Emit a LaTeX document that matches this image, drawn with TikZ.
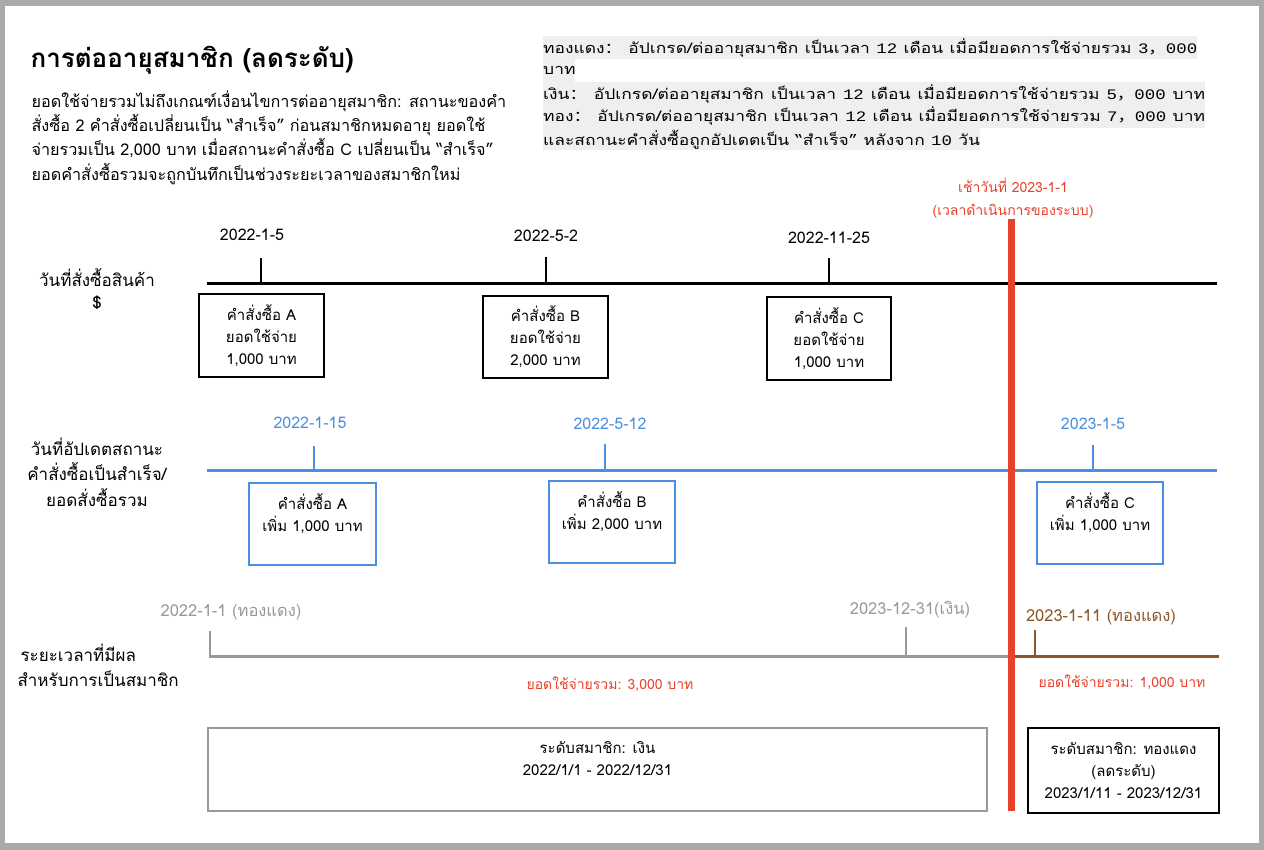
\documentclass[tikz,border=0pt]{standalone}
\usepackage{fontspec}
\setmainfont{Loma}[Script=Thai]
\newfontfamily\cjk{Noto Sans CJK SC}
\newfontfamily\mono{Liberation Mono}
\usetikzlibrary{positioning}
\newcommand{\fsz}[2]{\fontsize{#1}{#2}\selectfont}
% wide, evenly spread line for the rules box
\newcommand{\ruleline}[2]{\scalebox{1.2}[1]{\makebox[#1][s]{#2}}}

\begin{document}
\begin{tikzpicture}[x=1pt,y=-1pt,
    every node/.style={font=\fsz{15}{22}},
    obox/.style={draw=black, line width=2pt, align=center, inner sep=0pt},
    ubox/.style={draw=bl, line width=2pt, align=center, inner sep=0pt},
    rule/.style={fill=hl, anchor=north west, inner sep=0pt, minimum height=22.5pt, font=\fsz{14.5}{22}},
    axis/.style={line width=3pt},
    tick/.style={line width=2pt}]
  \definecolor{frame}{HTML}{AAAAAA}\definecolor{rd}{HTML}{E8412C}\definecolor{bl}{HTML}{4A90E2}
  \definecolor{gr}{HTML}{999999}\definecolor{br}{HTML}{8B572A}\definecolor{hl}{HTML}{EFEFEF}
  \useasboundingbox (0,0) rectangle (1264,850);
  \fill[frame] (0,0) rectangle (1264,850);
  \fill[white] (5,6) rectangle (1259,843);

  % heading and notes
  \node[anchor=west, font=\fsz{26}{30}\bfseries] (title) at (27,60) {การต่ออายุสมาชิก (ลดระดับ)};
  \node[anchor=north west, align=left, font=\fsz{16.2}{24.3}] (desc) at (28,87)
    {ยอดใช้จ่ายรวมไม่ถึงเกณฑ์เงื่อนไขการต่ออายุสมาชิก: สถานะของคำ\\
     สั่งซื้อ 2 คำสั่งซื้อเปลี่ยนเป็น “สำเร็จ” ก่อนสมาชิกหมดอายุ ยอดใช้\\
     จ่ายรวมเป็น 2,000 บาท เมื่อสถานะคำสั่งซื้อ C เปลี่ยนเป็น “สำเร็จ”\\
     ยอดคำสั่งซื้อรวมจะถูกบันทึกเป็นช่วงระยะเวลาของสมาชิกใหม่};
  \node[rule] (rule1) at (543,36) {\ruleline{545pt}{ทองแดง{\cjk ：} อัปเกรด/ต่ออายุสมาชิก เป็นเวลา {\mono 12} เดือน เมื่อมียอดการใช้จ่ายรวม {\mono 3}{\cjk ，}{\mono 000}}\hspace{8pt}};
  \node[rule] (rule2) at (rule1.south west) {\scalebox{1.2}[1]{บาท}};
  \node[rule] (rule3) at (543,82) {\ruleline{551.5pt}{เงิน{\cjk ：} อัปเกรด/ต่ออายุสมาชิก เป็นเวลา {\mono 12} เดือน เมื่อมียอดการใช้จ่ายรวม {\mono 5}{\cjk ，}{\mono 000} บาท}};
  \node[rule] (rule4) at (rule3.south west) {\ruleline{551.5pt}{ทอง{\cjk ：} อัปเกรด/ต่ออายุสมาชิก เป็นเวลา {\mono 12} เดือน เมื่อมียอดการใช้จ่ายรวม {\mono 7}{\cjk ，}{\mono 000} บาท}};
  \node[rule] (rule5) at (rule4.south west) {\ruleline{364pt}{และสถานะคำสั่งซื้อถูกอัปเดตเป็น “สำเร็จ” หลังจาก {\mono 10} วัน}};

  % order dates
  \node[align=center, font=\fsz{17}{22}] (lblOrder) at (97,289) {วันที่สั่งซื้อสินค้า\\\$};
  \coordinate (o0) at (207,284); \coordinate (o1) at (1217,284);
  \draw[axis] (o0) -- (o1);
  \node[font=\fsz{16}{20}] (dA) at (252,235) {2022-1-5};
  \node[font=\fsz{16}{20}] (dB) at (546,236) {2022-5-2};
  \node[font=\fsz{16}{20}] (dC) at (829,238) {2022-11-25};
  \coordinate (kA) at (261,258); \coordinate (kB) at (546,257); \coordinate (kC) at (829,258);
  \foreach \k in {kA,kB,kC} \draw[tick] (\k) -- (\k |- o0);
  \node[obox, minimum width=125pt, minimum height=83pt] (oA) at (261.5,335.5) {คำสั่งซื้อ A\\ยอดใช้จ่าย\\1,000 บาท};
  \node[obox, minimum width=125pt, minimum height=82pt] (oB) at (545.5,337) {คำสั่งซื้อ B\\ยอดใช้จ่าย\\2,000 บาท};
  \node[obox, minimum width=124pt, minimum height=83pt] (oC) at (829,338.5) {คำสั่งซื้อ C\\ยอดใช้จ่าย\\1,000 บาท};

  % status updates
  \node[align=center, font=\fsz{17}{25.5}] (lblUpdate) at (97,472) {วันที่อัปเดตสถานะ\\คำสั่งซื้อเป็นสำเร็จ/\\ยอดสั่งซื้อรวม};
  \coordinate (u0) at (207,470); \coordinate (u1) at (1217,470);
  \draw[axis, bl] (u0) -- (u1);
  \node[bl, font=\fsz{16}{20}] (dU1) at (310,423) {2022-1-15};
  \node[bl, font=\fsz{16}{20}] (dU2) at (610,424) {2022-5-12};
  \node[bl, font=\fsz{16}{20}] (dU3) at (1093,424) {2023-1-5};
  \coordinate (kU1) at (314,446); \coordinate (kU2) at (605,444); \coordinate (kU3) at (1093,445);
  \foreach \k in {kU1,kU2,kU3} \draw[tick, bl] (\k) -- (\k |- u0);
  \node[ubox, minimum width=127pt, minimum height=82pt] (bA) at (312.5,524) {คำสั่งซื้อ A\\เพิ่ม 1,000 บาท\\ };
  \node[ubox, minimum width=126pt, minimum height=82pt] (bB) at (612,522) {คำสั่งซื้อ B\\เพิ่ม 2,000 บาท\\ };
  \node[ubox, minimum width=126pt, minimum height=82pt] (bC) at (1100,523) {คำสั่งซื้อ C\\เพิ่ม 1,000 บาท\\ };

  % membership periods
  \node[anchor=west, align=left, font=\fsz{17}{25}] (lblPeriod) at (14,665.5) {\hspace{3pt}ระยะเวลาที่มีผล\\สำหรับการเป็นสมาชิก};
  \coordinate (p0) at (209,656); \coordinate (pm) at (1010,656); \coordinate (p1) at (1219,656);
  \draw[axis, gr] (p0) -- (pm);
  \draw[axis, br] (pm) -- (p1);
  \node[gr, font=\fsz{16.5}{20}] (dP1) at (231,612) {2022-1-1 (ทองแดง)};
  \node[gr, font=\fsz{16.5}{20}] (dP2) at (910,610) {2023-12-31(เงิน)};
  \node[br, font=\fsz{16.5}{20}] (dP3) at (1101,617) {2023-1-11 (ทองแดง)};
  \coordinate (kP1) at (210,631); \coordinate (kP2) at (906,627); \coordinate (kP3) at (1035,630);
  \draw[tick, gr] (kP1) -- (kP1 |- p0);
  \draw[tick, gr] (kP2) -- (kP2 |- p0);
  \draw[tick, br] (kP3) -- (kP3 |- p0);
  \node[rd, font=\fsz{14}{20}] (sum1) at (610,684) {ยอดใช้จ่ายรวม: 3,000 บาท};
  \node[rd, font=\fsz{14}{20}] (sum2) at (1122,682) {ยอดใช้จ่ายรวม: 1,000 บาท};
  \node[obox, draw=gr, minimum width=779pt, minimum height=83pt] (tierS) at (597.5,769.5) {ระดับสมาชิก: เงิน\\2022/1/1 - 2022/12/31\\ };
  \node[obox, minimum width=191pt, minimum height=85pt] (tierB) at (1123.5,770.5) {ระดับสมาชิก: ทองแดง\\(ลดระดับ)\\2023/1/11 - 2023/12/31};

  % system run date
  \node[rd, align=center, font=\fsz{14}{23}] (now) at (1013,198) {เช้าวันที่ 2023-1-1\\(เวลาดำเนินการของระบบ)};
  \coordinate (r0) at (1011,219); \coordinate (r1) at (1011,811);
  \draw[rd, line width=7pt] (r0) -- (r1);
\end{tikzpicture}
\end{document}
